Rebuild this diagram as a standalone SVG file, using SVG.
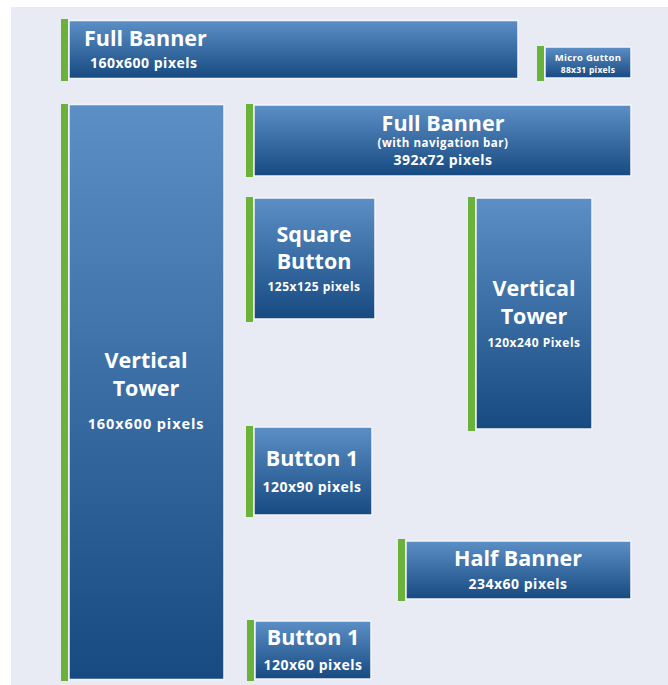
<svg xmlns="http://www.w3.org/2000/svg" width="668" height="685" viewBox="0 0 668 685">
  <defs>
    <linearGradient id="boxFill" x1="0" y1="0" x2="0" y2="1">
      <stop offset="0" stop-color="#5b8fc6"/>
      <stop offset="1" stop-color="#174a80"/>
    </linearGradient>
    <style>
      .box { fill: url(#boxFill); stroke: #f1f5fa; stroke-width: 1.5; }
      .bar { fill: #6bb23b; }
      text { font-family: "Open Sans", "Noto Sans", "Liberation Sans", sans-serif; font-weight: bold; fill: #ffffff; text-anchor: middle; }
      .title { font-size: 21.5px; }
      .size { font-size: 14px; letter-spacing: 0.5px; }
      .small { font-size: 12px; letter-spacing: 0.5px; }
    </style>
  </defs>

  <!-- page and panel -->
  <rect x="0" y="0" width="668" height="685" fill="#ffffff"/>
  <rect x="11" y="7" width="657" height="678" fill="#e8ebf3"/>

  <g id="full-banner">
    <rect class="bar" x="61" y="19" width="7" height="62"/>
    <rect class="box" x="69" y="20.5" width="449" height="58"/>
    <text class="title" x="84" y="46" style="text-anchor:start">Full Banner</text>
    <text class="size" x="90" y="68" style="text-anchor:start">160x600 pixels</text>
  </g>

  <g id="micro-button">
    <rect class="bar" x="537" y="46" width="7" height="35"/>
    <rect class="box" x="545" y="47" width="86" height="31"/>
    <text x="588" y="61" style="font-size:9.5px; letter-spacing:0.3px">Micro Gutton</text>
    <text x="588" y="73" style="font-size:8.5px; letter-spacing:0.25px">88x31 pixels</text>
  </g>

  <g id="vertical-tower-large">
    <rect class="bar" x="61" y="104" width="7" height="577"/>
    <rect class="box" x="69" y="104.5" width="155" height="575"/>
    <text class="title" x="146" y="368">Vertical</text>
    <text class="title" x="146" y="395.5">Tower</text>
    <text x="146" y="429" style="font-size:14.5px; letter-spacing:0.9px">160x600 pixels</text>
  </g>

  <g id="full-banner-nav">
    <rect class="bar" x="246" y="104" width="7" height="73"/>
    <rect class="box" x="254" y="105" width="377" height="71"/>
    <text class="title" x="443" y="130.5">Full Banner</text>
    <text x="443" y="147" style="font-size:11.5px; letter-spacing:0.5px">(with navigation bar)</text>
    <text class="size" x="443" y="165">392x72 pixels</text>
  </g>

  <g id="square-button">
    <rect class="bar" x="246" y="197" width="7" height="125"/>
    <rect class="box" x="254" y="198" width="121" height="121"/>
    <text class="title" x="314" y="242">Square</text>
    <text class="title" x="314" y="269">Button</text>
    <text class="small" x="314" y="291">125x125 pixels</text>
  </g>

  <g id="vertical-tower-small">
    <rect class="bar" x="468" y="197" width="7" height="234"/>
    <rect class="box" x="476" y="198" width="116" height="231"/>
    <text class="title" x="534" y="296">Vertical</text>
    <text class="title" x="534" y="323.5">Tower</text>
    <text class="small" x="534" y="347">120x240 Pixels</text>
  </g>

  <g id="button-90">
    <rect class="bar" x="246" y="426" width="7" height="91"/>
    <rect class="box" x="254" y="427" width="118" height="88"/>
    <text class="title" x="312" y="466">Button 1</text>
    <text class="size" x="312" y="492">120x90 pixels</text>
  </g>

  <g id="half-banner">
    <rect class="bar" x="398" y="539" width="7" height="62"/>
    <rect class="box" x="406" y="541" width="225" height="58"/>
    <text class="title" x="518" y="566">Half Banner</text>
    <text class="size" x="518" y="589">234x60 pixels</text>
  </g>

  <g id="button-60">
    <rect class="bar" x="247" y="620" width="7" height="61"/>
    <rect class="box" x="255" y="621" width="116" height="58"/>
    <text class="title" x="313" y="645">Button 1</text>
    <text class="size" x="313" y="670">120x60 pixels</text>
  </g>

  <g id="connectors"/>
</svg>
